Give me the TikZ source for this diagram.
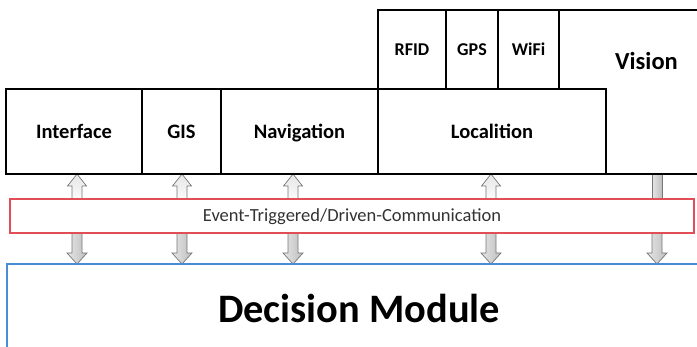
\documentclass[tikz,border=0pt]{standalone}
\usepackage{fontspec}
\setmainfont{Carlito}
\definecolor{commred}{RGB}{226,78,88}
\definecolor{decblue}{RGB}{74,140,214}
\definecolor{arrline}{RGB}{118,118,118}
\definecolor{arrtop}{RGB}{230,230,230}
\definecolor{arrbot}{RGB}{190,190,190}
\definecolor{commtext}{RGB}{50,50,50}
\begin{document}
\begin{tikzpicture}[x=1pt,y=-1pt,
  blk/.style={draw=black, line width=1.9pt, inner sep=0pt, outer sep=0pt, anchor=north west,
    font=\bfseries\fontsize{20.5}{24}\selectfont, text height=13.2pt, text depth=0pt},
  subblk/.style={blk, font=\bfseries\fontsize{18}{22}\selectfont, text height=11.6pt},
  edge/.style={draw=black, line width=1.9pt, line cap=rect},
  uparr/.pic={\draw[draw=arrline, line width=0.7pt, top color=arrtop, bottom color=white!85!arrtop]
     (0,0) -- (9.5,12) -- (5,12) -- (5,25) -- (-5,25) -- (-5,12) -- (-9.5,12) -- cycle;},
  downarr/.pic={\draw[draw=arrline, line width=0.7pt, left color=arrtop, right color=arrbot]
     (-5,0) -- (5,0) -- (5,20) -- (10,20) -- (0,31) -- (-10,20) -- (-5,20) -- cycle;},
  shaftonly/.pic={\draw[draw=arrline, line width=0.7pt, left color=arrtop, right color=arrbot]
     (-5,0) rectangle (5,25);}
]
\useasboundingbox (0,0) rectangle (697,347);

% block arrows
\pic at (77,174) {uparr};
\pic at (182,174) {uparr};
\pic at (293,174) {uparr};
\pic at (491,174) {uparr};
\pic at (657,174) {shaftonly};
\pic at (77,233) {downarr};
\pic at (182,233) {downarr};
\pic at (293,233) {downarr};
\pic at (491,233) {downarr};
\pic at (657,233) {downarr};

% upper boxes
\node[blk, minimum width=136pt, minimum height=85pt] (iface) at (6,89) {Interface};
\node[blk, minimum width=79pt, minimum height=85pt] (gis) at (142,89) {GIS};
\node[blk, minimum width=157pt, minimum height=85pt] (nav) at (221,89) {Navigation};
\node[blk, minimum width=228pt, minimum height=85pt] (loc) at (378,89) {Localition};
\node[subblk, minimum width=68pt, minimum height=79pt] (rfid) at (378,10) {RFID};
\node[subblk, minimum width=52pt, minimum height=79pt] (gps) at (446,10) {GPS};
\node[subblk, minimum width=61pt, minimum height=79pt] (wifi) at (498,10) {WiFi};

% Vision (open to the right)
\coordinate (vtr) at (697,10);
\coordinate (vbr) at (697,174);
\draw[edge] (wifi.north east) -- (vtr);
\draw[edge] (loc.south east) -- (vbr);
\node[inner sep=0pt, font=\bfseries\fontsize{24.5}{28}\selectfont, text height=15.8pt, text depth=0pt] (vision) at (646.5,61.3) {Vision};

% communication bar
\node[draw=commred, line width=1.6pt, anchor=north west, minimum width=684pt, minimum height=34pt,
  inner sep=0pt, outer sep=0pt, text=commtext, font=\fontsize{18.5}{22}\selectfont, text height=11.9pt, text depth=0pt]
  (comm) at (10,199) {Event-Triggered/Driven-Communication};

% decision module (open to the right and bottom)
\coordinate (dbl) at (7,347);
\coordinate (dtl) at (7,264);
\coordinate (dtr) at (697,264);
\draw[draw=decblue, line width=1.7pt] (dbl) -- (dtl) -- (dtr);
\node[anchor=base, inner sep=0pt, font=\bfseries\fontsize{40.4}{46}\selectfont] (dec) at (359,323) {Decision Module};
\end{tikzpicture}
\end{document}
